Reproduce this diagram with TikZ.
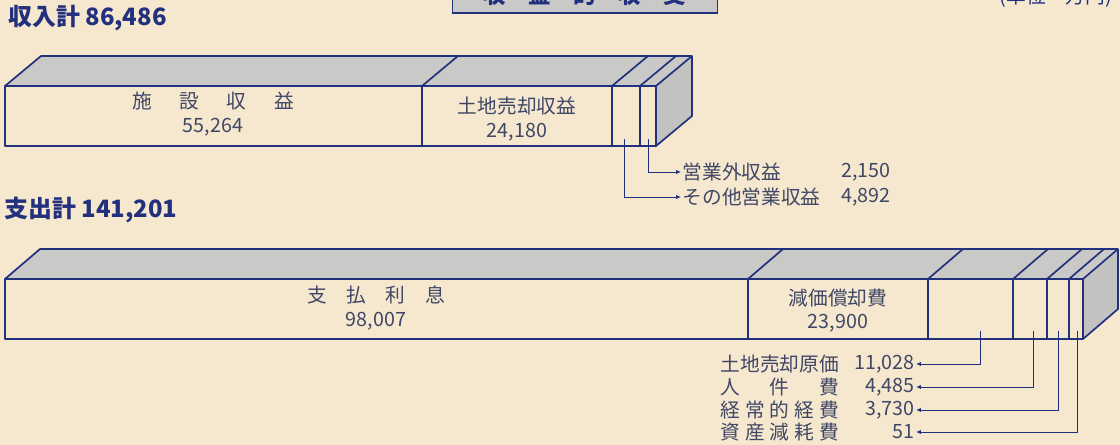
\documentclass[tikz,border=0pt]{standalone}
\usepackage{fontspec}
\setmainfont{Noto Sans CJK JP}
\usetikzlibrary{arrows.meta}
\definecolor{paper}{HTML}{F6E8CF}
\definecolor{ink}{HTML}{22307E}
\definecolor{topgray}{HTML}{C9CAC7}
\definecolor{sidegray}{HTML}{C2C3C0}
\definecolor{labelc}{HTML}{404766}
\begin{document}
\begin{tikzpicture}[x=0.025cm,y=-0.025cm,
  edge/.style={draw=ink,line width=1.2pt,line join=round},
  lbl/.style={text=labelc,font=\fontsize{14}{16.5}\selectfont,align=center,inner sep=1pt},
  head/.style={text=ink,font=\fontsize{17}{19}\selectfont\bfseries,anchor=west,inner sep=0pt},
  lead/.style={draw=ink,line width=0.6pt,-{Latex[length=3.5pt,width=3pt]}}]
\useasboundingbox[fill=paper] (0,0) rectangle (1120,445);

% title and unit, cut by the top edge
\node[draw=ink,fill=topgray,line width=1.2pt,text=ink,minimum width=6.625cm,minimum height=0.9cm,
  font=\fontsize{16}{18}\selectfont\bfseries] (title) at (585,-5) {収　益　的　収　支};
\node[text=ink,font=\fontsize{14}{16}\selectfont,anchor=east,inner sep=0pt] (unit) at (1112,-3) {(単位　万円)};

% income
\node[head] (inhead) at (8,18) {収入計 86,486};
\fill[topgray] (5,86) -- (41,56) -- (692,56) -- (656,86) -- cycle;
\fill[sidegray] (656,86) -- (692,56) -- (692,116) -- (656,146) -- cycle;
\draw[edge] (5,86) -- (41,56) -- (692,56) -- (692,116) -- (656,146) (656,86) -- (692,56);
\draw[edge] (5,86) rectangle (656,146);
\foreach \x in {422,612,640}
  \draw[edge] (\x,86) -- (\x,146) (\x,86) -- ++(36,-30);
\node[lbl] (shisetsu) at (213,114) {施\hspace{1.4em}設\hspace{1.4em}収\hspace{1.4em}益\\55,264};
\node[lbl] (tochi) at (517,119) {土地売却収益\\24,180};

\coordinate (sonotaP) at (624,139);
\coordinate (eigyogaiP) at (648,139);
\node[lbl,anchor=west] (eigyogai) at (681,172) {営業外収益};
\node[lbl,anchor=east] (eigyogaiV) at (892,172) {2,150};
\node[lbl,anchor=west] (sonota) at (681,197) {その他営業収益};
\node[lbl,anchor=east] (sonotaV) at (892,197) {4,892};
\draw[lead] (eigyogaiP) |- (eigyogai.west);
\draw[lead] (sonotaP) |- (sonota.west);

% expenses
\node[head] (outhead) at (4,210) {支出計 141,201};
\fill[topgray] (5,279) -- (40,249) -- (1118,249) -- (1083,279) -- cycle;
\fill[sidegray] (1083,279) -- (1118,249) -- (1118,309) -- (1083,339) -- cycle;
\draw[edge] (5,279) -- (40,249) -- (1118,249) -- (1118,309) -- (1083,339) (1083,279) -- (1118,249);
\draw[edge] (5,279) rectangle (1083,339);
\foreach \x in {748,928,1013,1047,1069}
  \draw[edge] (\x,279) -- (\x,339) (\x,279) -- ++(35,-30);
\node[lbl] (shiharai) at (376,308) {支　払　利　息\\98,007};
\node[lbl] (genka) at (838,311) {減価償却費\\23,900};

\coordinate (genkaP) at (980,331);
\coordinate (jinkenP) at (1033,331);
\coordinate (keijoP) at (1058,331);
\coordinate (genmoP) at (1077,331);
\node[lbl,anchor=west] (genkaN) at (719,364) {土地売却原価};
\node[lbl,anchor=west] (jinkenN) at (719,387) {\makebox[6em][s]{人\hfil 件\hfil 費}};
\node[lbl,anchor=west] (keijoN) at (719,410) {\makebox[6em][s]{経\hfil 常\hfil 的\hfil 経\hfil 費}};
\node[lbl,anchor=west] (genmoN) at (719,432) {\makebox[6em][s]{資\hfil 産\hfil 減\hfil 耗\hfil 費}};
\node[lbl,anchor=east] (genkaV) at (916,364) {11,028};
\node[lbl,anchor=east] (jinkenV) at (916,387) {4,485};
\node[lbl,anchor=east] (keijoV) at (916,410) {3,730};
\node[lbl,anchor=east] (genmoV) at (916,432) {51};
\draw[lead] (genkaP) |- (genkaV.east);
\draw[lead] (jinkenP) |- (jinkenV.east);
\draw[lead] (keijoP) |- (keijoV.east);
\draw[lead] (genmoP) |- (genmoV.east);
\end{tikzpicture}
\end{document}
